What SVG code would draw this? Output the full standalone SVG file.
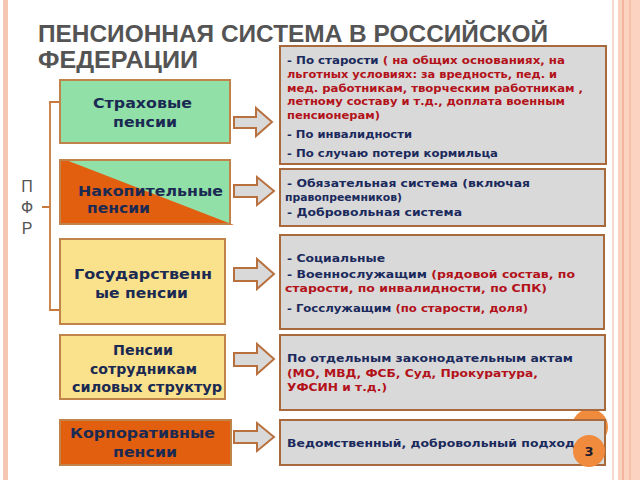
<svg xmlns="http://www.w3.org/2000/svg" width="640" height="480" viewBox="0 0 640 480">
<defs>
<style>
.title{font-family:"Liberation Sans",Arial,sans-serif;font-weight:bold;fill:#545454;font-size:23px}
.lb{font-family:"DejaVu Sans","Liberation Sans",sans-serif;font-weight:bold;fill:#1b2a52;font-size:13.5px}
.rt{font-family:"DejaVu Sans","Liberation Sans",sans-serif;font-weight:bold;fill:#1b2a5c;font-size:10.5px}
.red{fill:#b3121a}
.pfr{font-family:"Liberation Sans",Arial,sans-serif;fill:#555;font-size:16px}
.rbox{fill:#d9d9d9;stroke:#a86a3c;stroke-width:2}
.lbox{stroke:#c0834a;stroke-width:2}
.arr{fill:#d9d9d9;stroke:#b8703e;stroke-width:2;stroke-linejoin:miter}
.br{fill:none;stroke:#c87a3e;stroke-width:1.8}
</style>
</defs>
<rect width="640" height="480" fill="#ffffff"/>
<rect x="3" y="0" width="5" height="480" fill="#f5c6b2"/>
<rect x="612" y="0" width="2" height="480" fill="#f6dacb"/>
<rect x="618" y="0" width="22" height="480" fill="#fcd3c0"/>
<rect x="622" y="0" width="2" height="480" fill="#f4b59c"/>
<rect x="629" y="0" width="2" height="480" fill="#f7c2aa"/>

<text class="title" x="38" y="42" textLength="510" lengthAdjust="spacingAndGlyphs">ПЕНСИОННАЯ СИСТЕМА В РОССИЙСКОЙ</text>
<text class="title" x="38" y="68" textLength="160" lengthAdjust="spacingAndGlyphs">ФЕДЕРАЦИИ</text>

<g id="bracket">
<path class="br" d="M60,102 H50 V310 H60 M50,207 H42"/>
<text class="pfr" x="27" y="192" text-anchor="middle">П</text>
<text class="pfr" x="27" y="213" text-anchor="middle">Ф</text>
<text class="pfr" x="27" y="234" text-anchor="middle">Р</text>
</g>

<circle cx="590" cy="427" r="18" fill="#f08a3c"/>

<g id="node-strah">
<rect class="lbox" x="60" y="80" width="170" height="63" fill="#90e0a8"/>
<text class="lb" x="93" y="108" textLength="99" lengthAdjust="spacingAndGlyphs">Страховые</text>
<text class="lb" x="113" y="127" textLength="64" lengthAdjust="spacingAndGlyphs">пенсии</text>
</g>

<g id="node-nakop">
<rect x="60" y="160" width="170" height="64" fill="#90e0a8"/>
<polygon points="60,160 66,160 234,225 60,225" fill="#e35f10"/>
<rect class="lbox" x="60" y="160" width="170" height="64" fill="none"/>
<text class="lb" x="78" y="196" textLength="145" lengthAdjust="spacingAndGlyphs">Накопительные</text>
<text class="lb" x="87" y="213" textLength="63" lengthAdjust="spacingAndGlyphs">пенсии</text>
</g>

<g id="node-gos">
<rect class="lbox" x="60" y="239" width="165" height="85" fill="#fae18c"/>
<text class="lb" x="74" y="279" textLength="138" lengthAdjust="spacingAndGlyphs">Государственн</text>
<text class="lb" x="95" y="298" textLength="93" lengthAdjust="spacingAndGlyphs">ые пенсии</text>
</g>

<g id="node-silov">
<rect class="lbox" x="60" y="335" width="165" height="64" fill="#fae18c"/>
<text class="lb" x="113" y="355" textLength="60" lengthAdjust="spacingAndGlyphs">Пенсии</text>
<text class="lb" x="90" y="374" textLength="107" lengthAdjust="spacingAndGlyphs">сотрудникам</text>
<text class="lb" x="72" y="392" textLength="150" lengthAdjust="spacingAndGlyphs">силовых структур</text>
</g>

<g id="node-korp">
<rect class="lbox" x="60" y="420" width="171" height="45" fill="#e35f10"/>
<text class="lb" x="70" y="438" textLength="145" lengthAdjust="spacingAndGlyphs">Корпоративные</text>
<text class="lb" x="113" y="457" textLength="64" lengthAdjust="spacingAndGlyphs">пенсии</text>
</g>

<g id="connectors">
<path class="arr" d="M234,117 H256 V108 L272,122 L256,136 V128 H234 Z"/>
<path class="arr" d="M234,185 H257 V177 L274,191 L257,205 V197 H234 Z"/>
<path class="arr" d="M234,268 H257 V259 L274,274 L257,289 V281 H234 Z"/>
<path class="arr" d="M234,353 H257 V344 L274,359 L257,374 V366 H234 Z"/>
<path class="arr" d="M234,431 H257 V423 L274,437 L257,451 V443 H234 Z"/>
</g>

<g id="box-strah">
<rect class="rbox" x="280" y="46" width="326" height="118"/>
<text class="rt" x="287" y="64" textLength="278" lengthAdjust="spacingAndGlyphs">- По старости <tspan class="red">( на общих основаниях,  на</tspan></text>
<text class="rt red" x="287" y="78" textLength="270" lengthAdjust="spacingAndGlyphs">льготных условиях: за вредность, пед. и</text>
<text class="rt red" x="287" y="92" textLength="296" lengthAdjust="spacingAndGlyphs">мед. работникам, творческим работникам ,</text>
<text class="rt red" x="287" y="105" textLength="278" lengthAdjust="spacingAndGlyphs">летному составу и т.д., доплата военным</text>
<text class="rt red" x="287" y="119" textLength="93" lengthAdjust="spacingAndGlyphs">пенсионерам)</text>
<text class="rt" x="287" y="138" textLength="125" lengthAdjust="spacingAndGlyphs">- По инвалидности</text>
<text class="rt" x="287" y="157" textLength="211" lengthAdjust="spacingAndGlyphs">- По случаю потери кормильца</text>
</g>

<g id="box-nakop">
<rect class="rbox" x="280" y="169" width="325" height="57"/>
<text class="rt" x="287" y="187" textLength="243" lengthAdjust="spacingAndGlyphs">- Обязательная система (включая</text>
<text class="rt" x="285" y="201" textLength="117" lengthAdjust="spacingAndGlyphs">правопреемников)</text>
<text class="rt" x="287" y="216" textLength="175" lengthAdjust="spacingAndGlyphs">- Добровольная система</text>
</g>

<g id="box-gos">
<rect class="rbox" x="280" y="235" width="324" height="94"/>
<text class="rt" x="287" y="262" textLength="98" lengthAdjust="spacingAndGlyphs">- Социальные</text>
<text class="rt" x="287" y="278" textLength="288" lengthAdjust="spacingAndGlyphs">- Военнослужащим <tspan class="red">(рядовой состав, по</tspan></text>
<text class="rt red" x="285" y="292" textLength="262" lengthAdjust="spacingAndGlyphs">старости, по  инвалидности, по СПК)</text>
<text class="rt" x="287" y="312" textLength="241" lengthAdjust="spacingAndGlyphs">- Госслужащим   <tspan class="red">(по старости, доля)</tspan></text>
</g>

<g id="box-silov">
<rect class="rbox" x="280" y="335" width="325" height="75"/>
<text class="rt" x="287" y="362" textLength="286" lengthAdjust="spacingAndGlyphs">По отдельным законодательным актам</text>
<text class="rt red" x="287" y="377" textLength="251" lengthAdjust="spacingAndGlyphs">(МО, МВД, ФСБ, Суд, Прокуратура,</text>
<text class="rt red" x="287" y="391" textLength="100" lengthAdjust="spacingAndGlyphs">УФСИН и т.д.)</text>
</g>

<g id="box-korp">
<rect class="rbox" x="280" y="420" width="325" height="45"/>
<text class="rt" x="287" y="447" textLength="288" lengthAdjust="spacingAndGlyphs">Ведомственный, добровольный подход</text>
</g>

<g id="page-num">
<circle cx="589" cy="451" r="16" fill="#f08a3c"/>
<text x="589" y="456" text-anchor="middle" font-family="DejaVu Sans, sans-serif" font-weight="bold" font-size="13" fill="#1b1b2e">3</text>
</g>
</svg>
